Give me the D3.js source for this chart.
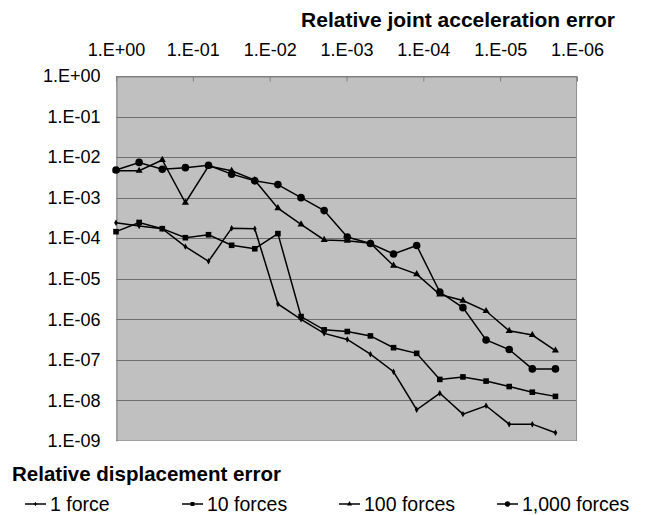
<!DOCTYPE html>
<html><head><meta charset="utf-8">
<script src="https://cdn.jsdelivr.net/npm/d3@7"></script>
<style>body{margin:0;background:#fff}svg{display:block}text{font-family:"Liberation Sans",Arial,sans-serif;fill:#000}</style>
</head><body><svg id="c" width="646" height="515"></svg>
<script>
const accelError = [1, 0.5, 0.25, 0.125, 0.0625, 0.03125, 0.015625, 0.0078125, 0.00390625, 0.001953125,
  0.0009765625, 0.00048828125, 0.000244140625, 0.0001220703125, 0.00006103515625, 0.000030517578125,
  0.0000152587890625, 0.00000762939453125, 0.000003814697265625, 0.0000019073486328125];
const force1 = [2.4e-4, 2.0e-4, 1.72e-4, 6.2e-5, 2.7e-5, 1.77e-4, 1.72e-4, 2.4e-6, 1.0e-6, 4.5e-7,
  3.2e-7, 1.38e-7, 5.1e-8, 5.9e-9, 1.5e-8, 4.6e-9, 7.4e-9, 2.6e-9, 2.6e-9, 1.6e-9];
const forces10 = [1.45e-4, 2.45e-4, 1.72e-4, 1.03e-4, 1.22e-4, 6.7e-5, 5.5e-5, 1.3e-4, 1.17e-6, 5.5e-7,
  5.0e-7, 3.9e-7, 2.0e-7, 1.45e-7, 3.3e-8, 3.8e-8, 3.0e-8, 2.2e-8, 1.6e-8, 1.26e-8];
const forces100 = [4.6e-3, 4.6e-3, 8.5e-3, 7.5e-4, 6.0e-3, 4.6e-3, 2.7e-3, 5.5e-4, 2.2e-4, 9.1e-5,
  8.7e-5, 7.5e-5, 2.1e-5, 1.3e-5, 4.1e-6, 2.9e-6, 1.6e-6, 5.2e-7, 4.1e-7, 1.7e-7];
const forces1000 = [4.8e-3, 7.4e-3, 5.0e-3, 5.5e-3, 6.3e-3, 3.8e-3, 2.6e-3, 2.1e-3, 1.0e-3, 4.8e-4,
  1.07e-4, 7.4e-5, 4.1e-5, 6.6e-5, 4.7e-6, 1.94e-6, 3.1e-7, 1.8e-7, 6.0e-8, 6.0e-8];
const seriesNames = ["1 force", "10 forces", "100 forces", "1,000 forces"];
const xTicks = [1, 1e-1, 1e-2, 1e-3, 1e-4, 1e-5, 1e-6];
const yTicks = [1, 1e-1, 1e-2, 1e-3, 1e-4, 1e-5, 1e-6, 1e-7, 1e-8, 1e-9];
const xTitle = "Relative joint acceleration error";
const yTitle = "Relative displacement error";

const svg = d3.select("#c");
const L = 116, R = 577, T = 76, B = 441;
const x = d3.scaleLog().domain([1, 1e-6]).range([L, R]);
const y = d3.scaleLog().domain([1, 1e-9]).range([T, B]);
const fmt = v => { const e = Math.round(Math.log10(v)); return "1.E" + (e >= 0 ? "+" : "-") + String(Math.abs(e)).padStart(2, "0"); };

svg.append("rect").attr("x", L).attr("y", T).attr("width", R - L).attr("height", B - T).attr("fill", "#c0c0c0");

// gridlines
svg.append("g").selectAll("line").data(yTicks.slice(1, -1)).join("line")
  .attr("x1", L).attr("x2", R).attr("y1", d => Math.round(y(d)) + 0.5).attr("y2", d => Math.round(y(d)) + 0.5)
  .attr("stroke", "#6e6e6e").attr("stroke-width", 1);

// border
svg.append("line").attr("x1", L).attr("x2", R).attr("y1", T + 0.5).attr("y2", T + 0.5).attr("stroke", "#808080");
svg.append("line").attr("x1", L).attr("x2", R).attr("y1", B - 0.5).attr("y2", B - 0.5).attr("stroke", "#a0a0a0");
svg.append("line").attr("x1", R - 0.5).attr("x2", R - 0.5).attr("y1", T).attr("y2", B).attr("stroke", "#909090");

// top axis (ticks inward, labels above)
const xAxis = d3.axisTop(x).tickValues(xTicks).tickFormat(fmt).tickSizeInner(-5).tickSizeOuter(0).tickPadding(21);
const gx = svg.append("g").attr("transform", `translate(0,${T + 0.5})`).call(xAxis);
gx.select(".domain").attr("stroke", "#808080");
gx.selectAll(".tick line").attr("stroke", "#808080");
gx.selectAll("text").attr("font-size", 18).attr("font-family", "Liberation Sans, Arial, sans-serif").attr("fill", "#000");

// left axis
const yAxis = d3.axisLeft(y).tickValues(yTicks).tickFormat(fmt).tickSize(0).tickPadding(16);
const gy = svg.append("g").attr("transform", `translate(${L + 0.5},0)`).call(yAxis);
gy.select(".domain").attr("stroke", "#808080");
gy.selectAll("text").attr("font-size", 18).attr("font-family", "Liberation Sans, Arial, sans-serif").attr("fill", "#000");

// titles
svg.append("text").attr("x", 615).attr("y", 27).attr("text-anchor", "end").attr("font-weight", "bold").attr("font-size", 21).text(xTitle);
svg.append("text").attr("x", 12).attr("y", 481).attr("font-weight", "bold").attr("font-size", 20.5).text(yTitle);

// series
const allSeries = [force1, forces10, forces100, forces1000];
const line = d3.line().x(d => x(d[0])).y(d => y(d[1]));
const markers = [
  (g) => g.append("path").attr("d", d3.symbol(d3.symbolDiamond, 12)()),
  (g) => g.append("rect").attr("x", -2.8).attr("y", -2.8).attr("width", 5.6).attr("height", 5.6),
  (g) => g.append("path").attr("d", d3.symbol(d3.symbolTriangle, 22)()),
  (g) => g.append("circle").attr("r", 3.8)
];
allSeries.forEach((vals, i) => {
  const pts = vals.map((v, k) => [accelError[k], v]);
  svg.append("path").attr("d", line(pts)).attr("fill", "none").attr("stroke", "#000").attr("stroke-width", 1.5);
  const g = svg.append("g");
  pts.forEach(p => {
    const m = g.append("g").attr("transform", `translate(${x(p[0])},${y(p[1])})`).attr("fill", "#000");
    markers[i](m);
  });
});

// legend
const legX = [25, 182, 339, 497];
seriesNames.forEach((name, i) => {
  const g = svg.append("g").attr("transform", `translate(${legX[i]},504)`);
  g.append("line").attr("x1", 0).attr("x2", 21).attr("y1", 0).attr("y2", 0).attr("stroke", "#000").attr("stroke-width", 1.5);
  const m = g.append("g").attr("transform", "translate(10.5,0) scale(0.7)").attr("fill", "#000");
  markers[i](m);
  g.append("text").attr("x", 25).attr("y", 7).attr("font-size", 19.5).text(name);
});
</script></body></html>
